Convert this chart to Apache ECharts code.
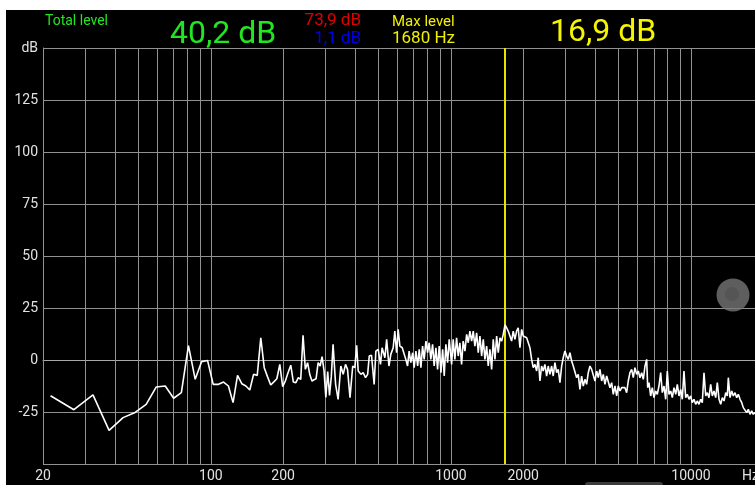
<!DOCTYPE html>
<html>
<head>
<meta charset="utf-8">
<script src="https://cdn.jsdelivr.net/npm/echarts@6/dist/echarts.min.js"></script>
<style>
html,body{margin:0;padding:0;background:#fff;width:755px;height:485px;overflow:hidden;}
#chart{position:absolute;left:6px;top:10px;width:749px;height:475px;}
</style>
</head>
<body>
<div id="chart"></div>
<script>
// Spectrum values
const freqHz = [
21.5,26.9,32.3,37.7,43.1,48.4,53.8,59.2,64.6,70.0,75.4,80.7,86.1,91.5,96.9,
102.3,107.7,113.0,118.4,123.8,129.2,134.6,140.0,145.3,150.7,156.1,161.5,166.9,172.2,177.6,
183.0,188.4,193.8,199.2,204.5,209.9,215.3,220.7,226.1,231.5,236.9,242.2,247.6,253.0,258.4,
263.8,269.1,274.5,279.9,285.3,290.7,296.1,301.4,306.8,312.2,317.6,323.0,
331,339,348,356,364,371,380,390,398,405,411,422,431,441,450,457,467,479,487,498,509,517,531,540,
552,562,575,584,594,603,613,627,639,649,660,670,681,693,703,715,727,738,750,762,774,787,800,812,
825,839,852,866,880,894,909,924,938,953,969,984,1007,1022,1039,1056,1073,1090,1108,1125,1144,1163,
1181,1200,1220,1239,1259,1280,1300,1321,1343,1364,1386,1409,1431,1454,1478,1501,1526,1551,1575,1601,
1627,1652,1680,1706,1733,1761,1790,1818,1848,1878,1907,1939,1971,2001,2034,2068,2100,2134,2169,2203,
2239,2276,2311,2349,2387,2424,2464,2505,2543,2585,2628,2668,2712,2757,2800,2846,2893,2937,2985,3035,
3082,3132,3184,3233,3286,3340,3392,3447,3504,3559,3617,3676,3734,3795,3857,3917,3981,4047,4110,4177,
4246,4312,4382,4455,4524,4598,4674,4746,4824,4904,4980,5061,5145,5225,5309,5396,5480,5570,5662,5750,
5844,5940,6033,6131,6233,6330,6433,6539,6602,6683,6794,6899,7012,7128,7239,7357,7478,7595,7719,7846,
7968,8099,8232,8360,8497,8637,8772,8913,9060,9200,9350,9505,9652,9811,9972,10125,10292,10462,10624,10798,
10976,11147,11330,11517,11694,11885,12082,12269,12470,12676,12873,13085,13301,13506,13729,13955,14172,14307,14542,14782,
15011,15256,15507,15748,16007,16271,16520,16788,17065,17331,17614,17904,18177,18478
];
const levelDb = [
-17.2,-23.9,-16.8,-33.8,-27.7,-25.2,-21.3,-13.0,-12.5,-18.4,-15.7,6.9,-9.3,-0.8,-0.2,
-11.7,-11.7,-10.6,-12.5,-20.5,-7.4,-11.4,-12.5,-14.4,-6.9,-7.4,10.7,-3.7,-8.0,-12.0,
-10.5,-9.0,-2.1,-12.8,-10.0,-6.0,-2.5,-10.6,-10.9,-8.5,-9.3,11.9,-4.5,-1.3,-7.0,
-10.1,-9.5,-9.0,-1.3,-2.9,1.6,-5.0,-18.0,-5.5,-17.0,-8.0,7.5,
-11.7,-18.9,-2.9,-6.9,-2.1,-4.5,-18.1,-2.9,-3.7,7.1,-5.3,-6.9,-6.1,-8.5,-6.9,1.9,2.3,-11.7,4.3,5.1,-2.1,5.9,1.1,9.9,
-2.9,2.7,5.9,13.9,3.5,14.7,6.7,5.9,5.1,0.3,-2.9,4.3,-1.3,3.5,-3.7,4.3,-2.9,5.1,-3.7,6.7,0.3,9.1,3.5,8.3,
0.3,7.5,-2.9,5.9,-4.5,6.7,-6.1,5.1,-7.7,7.5,-1.3,9.9,-2.1,9.9,0.3,10.7,1.9,8.3,-2.1,9.1,4.3,12.3,
8.3,13.9,9.1,13.9,6.7,13.1,3.5,11.5,1.9,9.9,0.3,6.7,-2.9,5.1,-4.5,9.9,0.3,11.5,3.5,10.7,
9.1,12.3,16.9,15.5,13.9,14.7,9.1,13.9,9.9,13.9,15.5,5.9,14.7,11.5,12.3,10.7,11.5,5.9,0.3,-3.7,
-2.1,-5.3,1.1,-10.1,-2.9,-5.3,-2.1,-7.7,-2.9,-6.9,-2.9,-7.7,-1.3,-6.1,-4.5,-10.9,-2.9,1.1,4.3,1.9,
0.3,3.5,-0.5,-2.9,-2.9,-8.5,-6.9,-14.1,-7.7,-12.5,-9.3,-11.7,-6.1,-2.9,-4.5,-3.7,-10.1,-5.3,-8.5,-4.5,
-10.1,-6.9,-11.7,-7.7,-6.9,-13.3,-10.9,-16.5,-12.5,-17.3,-12.5,-14.9,-13.3,-14.1,-13.3,-15.7,-10.1,-6.1,-4.5,-8.5,
-3.7,-6.9,-5.3,-8.5,-6.1,-9.3,-2.9,0.3,-13.3,-10.9,-17.3,-13.3,-18.1,-14.9,-16.5,-12.5,-6.1,-15.7,-12.5,-18.9,
-5.3,-16.5,-14.9,-18.1,-13.3,-16.5,-11.7,-17.3,-14.1,-18.9,-5.3,-18.1,-16.5,-18.9,-17.3,-20.5,-18.9,-21.3,-19.7,-21.3,
-18.9,-20.5,-6.1,-17.3,-15.7,-18.1,-11.7,-17.3,-14.9,-18.1,-10.9,-18.9,-21.3,-18.1,-19.7,-15.7,-17.3,-8.5,-18.1,-14.9,
-17.3,-15.7,-18.1,-16.5,-18.9,-20.5,-22.9,-22.1,-25.3,-23.7,-26.1,-24.5,-26.1,-25.3
];
// Vertical grid frequencies and the labelled ones
const gridFreqs = [20,30,40,50,60,70,80,90,100,200,300,400,500,600,700,800,900,1000,2000,3000,4000,5000,6000,7000,8000,9000,10000];
const xTickLabels = [20,100,200,1000,2000,10000];
const yTicks = [-50,-25,0,25,50,75,100,125,150];
const markerFreq = 1680;
const totalLevel = '40,2 dB', maxLevel = '16,9 dB', redLevel = '73,9 dB', blueLevel = '1,1 dB', maxFreqText = '1680 Hz';

const pairs = freqHz.map((f, i) => [f, levelDb[i]]);
const gridColor = '#929292';
const labelColor = '#e2e2e2';

const markData = gridFreqs.map(f => ({
  xAxis: f,
  name: xTickLabels.indexOf(f) >= 0 ? String(f) : ''
}));
markData.push({xAxis: markerFreq, name: '', lineStyle: {color: '#e4e400', width: 2, type: 'solid'}, label: {show: false}});

const chart = echarts.init(document.getElementById('chart'), null, {renderer: 'canvas'});
chart.setOption({
  backgroundColor: '#000',
  animation: false,
  grid: {left: 37, top: 38, right: 0, bottom: 21, containLabel: false},
  xAxis: {
    type: 'log', logBase: 10, min: 20, max: 18478,
    axisLine: {show: true, lineStyle: {color: '#a8a8a8', width: 1}},
    axisTick: {show: false}, axisLabel: {show: false}, splitLine: {show: false}
  },
  yAxis: {
    type: 'value', min: yTicks[0], max: yTicks[yTicks.length - 1], interval: 25,
    axisLine: {show: true, lineStyle: {color: gridColor, width: 1}},
    axisTick: {show: false},
    axisLabel: {
      color: labelColor, fontSize: 14, fontFamily: 'Roboto', margin: 5,
      formatter: v => v === 150 ? 'dB' : (v === -50 ? '' : String(v))
    },
    splitLine: {show: true, lineStyle: {color: gridColor, width: 1}}
  },
  series: [{
    type: 'line',
    data: pairs,
    showSymbol: false,
    symbol: 'none',
    clip: true,
    z: 3,
    lineStyle: {color: '#ffffff', width: 1.6},
    markLine: {
      silent: true,
      symbol: 'none',
      z: 1,
      animation: false,
      lineStyle: {color: gridColor, width: 1, type: 'solid'},
      label: {show: true, position: 'start', formatter: '{b}', color: labelColor, fontSize: 14, fontFamily: 'Roboto', distance: 5},
      emphasis: {disabled: true},
      data: markData
    }
  }],
  graphic: [
    {type: 'text', x: 39, y: 11, style: {text: 'Total level', fill: '#22e622', font: '14px Roboto', textAlign: 'left', textVerticalAlign: 'middle'}},
    {type: 'text', x: 164, y: 24.5, style: {text: totalLevel, fill: '#22e622', font: '32px Roboto', textAlign: 'left', textVerticalAlign: 'middle'}},
    {type: 'text', x: 355, y: 11, style: {text: redLevel, fill: '#e00000', font: '17px Roboto', textAlign: 'right', textVerticalAlign: 'middle'}},
    {type: 'text', x: 355, y: 28.5, style: {text: blueLevel, fill: '#0000e6', font: '17px Roboto', textAlign: 'right', textVerticalAlign: 'middle'}},
    {type: 'text', x: 386, y: 12, style: {text: 'Max level', fill: '#f0f000', font: '15px Roboto', textAlign: 'left', textVerticalAlign: 'middle'}},
    {type: 'text', x: 386, y: 29, style: {text: maxFreqText, fill: '#f0f000', font: '17px Roboto', textAlign: 'left', textVerticalAlign: 'middle'}},
    {type: 'text', x: 544, y: 22.5, style: {text: maxLevel, fill: '#f5f500', font: '32px Roboto', textAlign: 'left', textVerticalAlign: 'middle'}},
    {type: 'text', x: 736, y: 466, style: {text: 'Hz', fill: labelColor, font: '14px Roboto', textAlign: 'left', textVerticalAlign: 'middle'}},
    {type: 'circle', shape: {cx: 727, cy: 285, r: 16.5}, style: {fill: 'rgba(120,120,120,0.78)'}, z: 100},
    {type: 'circle', shape: {cx: 726, cy: 284, r: 7}, style: {fill: 'rgba(70,70,70,0.35)'}, z: 101},
    {type: 'rect', shape: {x: 579, y: 472, width: 78, height: 6, r: 3}, style: {fill: '#3c3c3c'}, z: 100}
  ]
});
</script>
</body>
</html>
